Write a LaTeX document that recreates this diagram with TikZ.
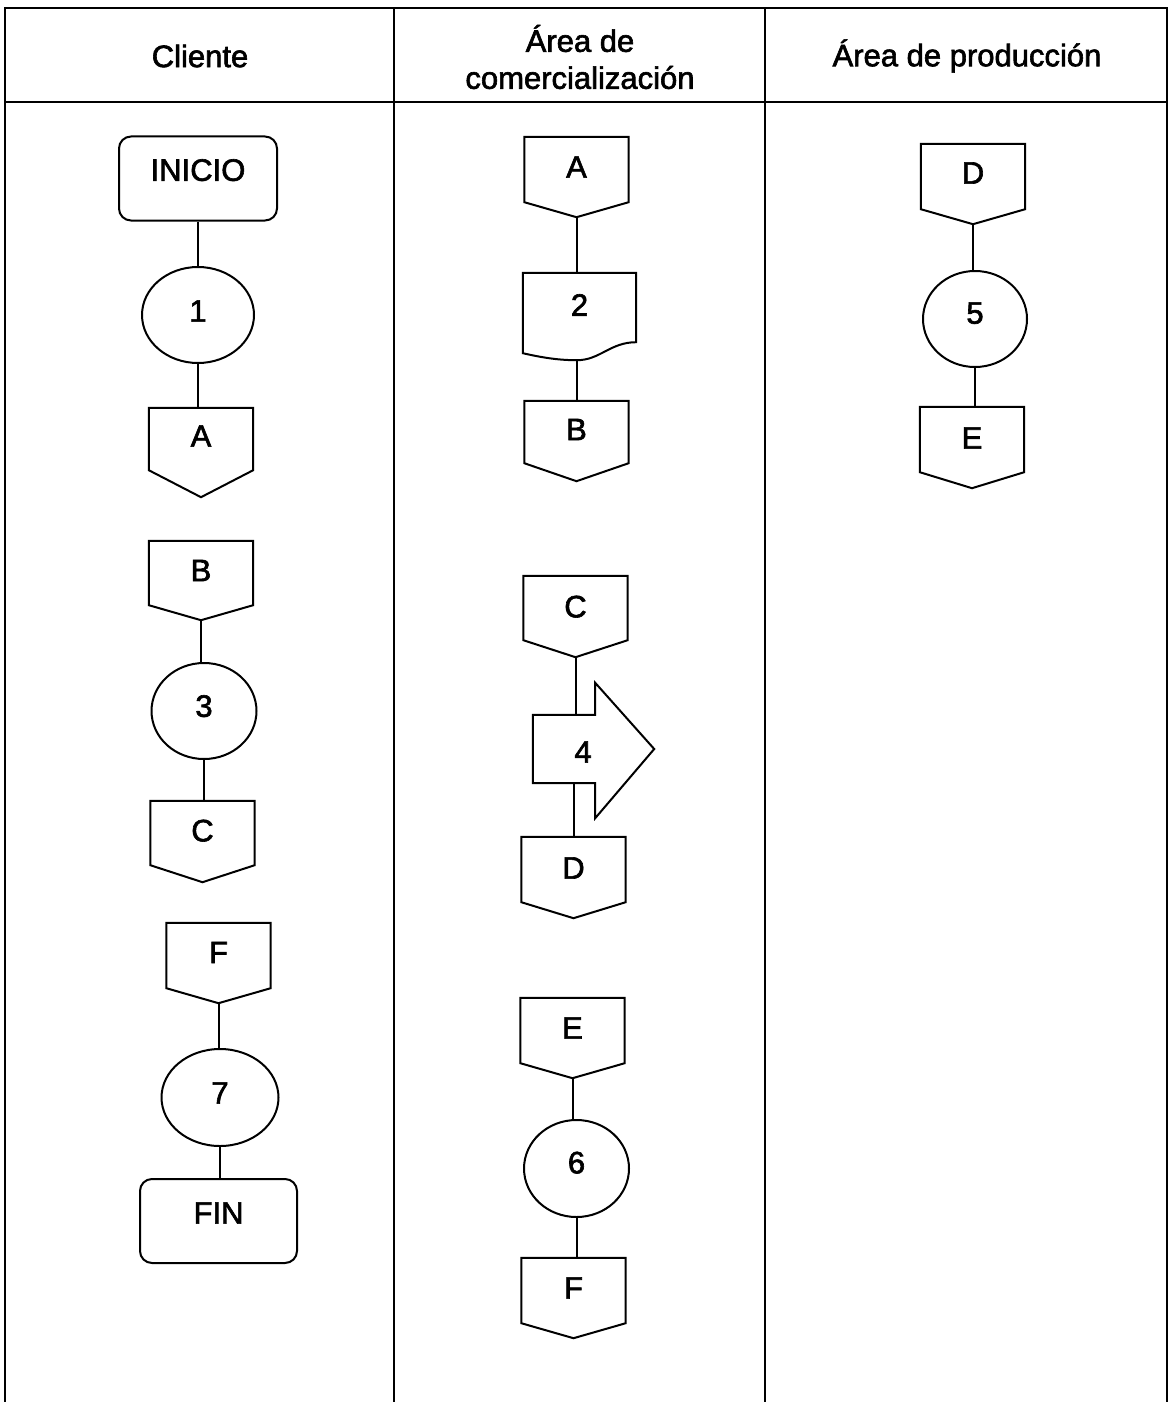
\documentclass[tikz,border=0pt]{standalone}
\usepackage{fontspec}
\setmainfont{Liberation Sans}
\newfontfamily\chartfont{Liberation Sans}[FakeBold=2]
\usetikzlibrary{shapes.geometric,calc}

% off-page connector outline: name, depth of the lower point (pt)
\newcommand\offpageoutline[2]{%
  \draw[shapeline] (#1.north west) -- (#1.north east) -- (#1.south east)
    -- ([yshift=-#2pt]#1.south) coordinate (#1tip) -- (#1.south west) -- cycle;}
\newcommand\up[2]{\raisebox{#1}{#2}}

\begin{document}
\begin{tikzpicture}[x=1pt,y=-1pt,
  shapeline/.style={draw=black,line width=2pt,line join=miter},
  lbl/.style={font=\chartfont\fontsize{31}{37}\selectfont},
  terminal/.style={shapeline,rounded corners=12pt,minimum width=158pt,minimum height=84pt,inner sep=0pt,lbl},
  proc/.style={shapeline,ellipse,inner sep=0pt,lbl},
  offpage/.style={minimum width=104pt,minimum height=64pt,inner sep=0pt,lbl},
  link/.style={line width=2pt},
  grid/.style={line width=1.6pt}]

\useasboundingbox (0,0) rectangle (1170,1402);
\fill[white] (0,0) rectangle (1170,1402);

% swimlane table
\draw[grid] (5,1402) -- (5,8) -- (1167,8) -- (1167,1402);
\draw[grid] (5,102) -- (1167,102);
\draw[grid] (394,8) -- (394,1402);
\draw[grid] (765,8) -- (765,1402);

\node[lbl] (h1) at (200,56) {Cliente};
\node[lbl,align=center] (h2) at (580,57) {Área de\\comercialización};
\node[lbl] (h3) at (967,56) {Área de producción};

% ---- Cliente ----
\node[terminal] (ini) at (198,178.5) {\up{17pt}{INICIO}};
\node[proc,minimum width=112pt,minimum height=96pt] (c1) at (198,315) {\up{8pt}{1}};
\node[offpage,minimum height=62pt] (A1) at (201,439) {\up{6pt}{A}};
\offpageoutline{A1}{27}

\node[offpage] (B1) at (201,573) {\up{5pt}{B}};
\offpageoutline{B1}{15}
\node[proc,minimum width=105pt,minimum height=96pt] (c3) at (204,711) {\up{10pt}{3}};
\node[offpage] (C1) at (202.5,833) {\up{5pt}{C}};
\offpageoutline{C1}{17}

\node[offpage,minimum height=65pt] (F1) at (218.5,955.5) {\up{6pt}{F}};
\offpageoutline{F1}{15}
\node[proc,minimum width=117pt,minimum height=97pt] (c7) at (220,1097.5) {\up{9pt}{7}};
\node[terminal,minimum width=157pt] (fin) at (218.5,1221) {\up{16pt}{FIN}};

\draw[link] (ini.south) -- (ini.south |- c1.north);
\draw[link] (c1.south) -- (c1.south |- A1.north);
\draw[link] (B1tip) -- (B1tip |- c3.north);
\draw[link] (c3.south) -- (c3.south |- C1.north);
\draw[link] (F1tip) -- (F1tip |- c7.north);
\draw[link] (c7.south) -- (c7.south |- fin.north);

% ---- Área de comercialización ----
\node[offpage,minimum height=65pt] (A2) at (576.5,169.5) {\up{5pt}{A}};
\offpageoutline{A2}{15}

\node[minimum width=113pt,minimum height=69pt,inner sep=0pt,lbl] (P2) at (579.5,307.5) {\up{5pt}{2}};
\draw[shapeline] (P2.south east) -- (P2.north east) -- (P2.north west)
  -- ([yshift=-11pt]P2.south west)
  .. controls +(22,5) and +(-17,0) .. ([xshift=-2.5pt,yshift=-18pt]P2.south) coordinate (P2bot)
  .. controls +(23,0) and +(-26,0) .. (P2.south east) -- cycle;

\node[offpage,minimum height=62pt] (B2) at (576.5,432) {\up{5pt}{B}};
\offpageoutline{B2}{18}

\node[offpage] (C2) at (575.5,608) {\up{3pt}{C}};
\offpageoutline{C2}{17}

\node[minimum width=62pt,minimum height=68pt,inner sep=0pt,
      label={[lbl,xshift=19pt,yshift=-3pt]center:4}] (S4) at (564,749) {};
\draw[shapeline] (S4.north west) -- (S4.north east) -- ([yshift=32pt]S4.north east)
  -- ([xshift=59pt]S4.east) -- ([yshift=-35pt]S4.south east) -- (S4.south east)
  -- (S4.south west) -- cycle;

\node[offpage,minimum height=65pt] (D2) at (573.5,869.5) {\up{3pt}{D}};
\offpageoutline{D2}{16}

\node[offpage,minimum height=65pt] (E2) at (572.5,1030.5) {\up{5pt}{E}};
\offpageoutline{E2}{15}
\node[proc,minimum width=105pt,minimum height=97pt] (c6) at (576.5,1168.5) {\up{12pt}{6}};
\node[offpage,minimum height=65pt] (F2) at (573.5,1290.5) {\up{5pt}{F}};
\offpageoutline{F2}{15}

\draw[link] (A2tip) -- (A2tip |- P2.north);
\draw[link] (P2bot) -- (P2bot |- B2.north);
\draw[link] (C2tip) -- (C2tip |- S4.north);
\draw[link] (D2.north |- S4.south) -- (D2.north);
\draw[link] (E2tip) -- (E2tip |- c6.north);
\draw[link] (c6.south) -- (c6.south |- F2.north);

% ---- Área de producción ----
\node[offpage,minimum height=65pt] (D3) at (973,176.5) {\up{7pt}{D}};
\offpageoutline{D3}{15}
\node[proc,minimum width=104pt,minimum height=96pt] (c5) at (975,319) {\up{12pt}{5}};
\node[offpage,minimum height=65pt] (E3) at (972,439.5) {\up{3pt}{E}};
\offpageoutline{E3}{16}

\draw[link] (D3tip) -- (D3tip |- c5.north);
\draw[link] (c5.south) -- (c5.south |- E3.north);

\end{tikzpicture}
\end{document}
